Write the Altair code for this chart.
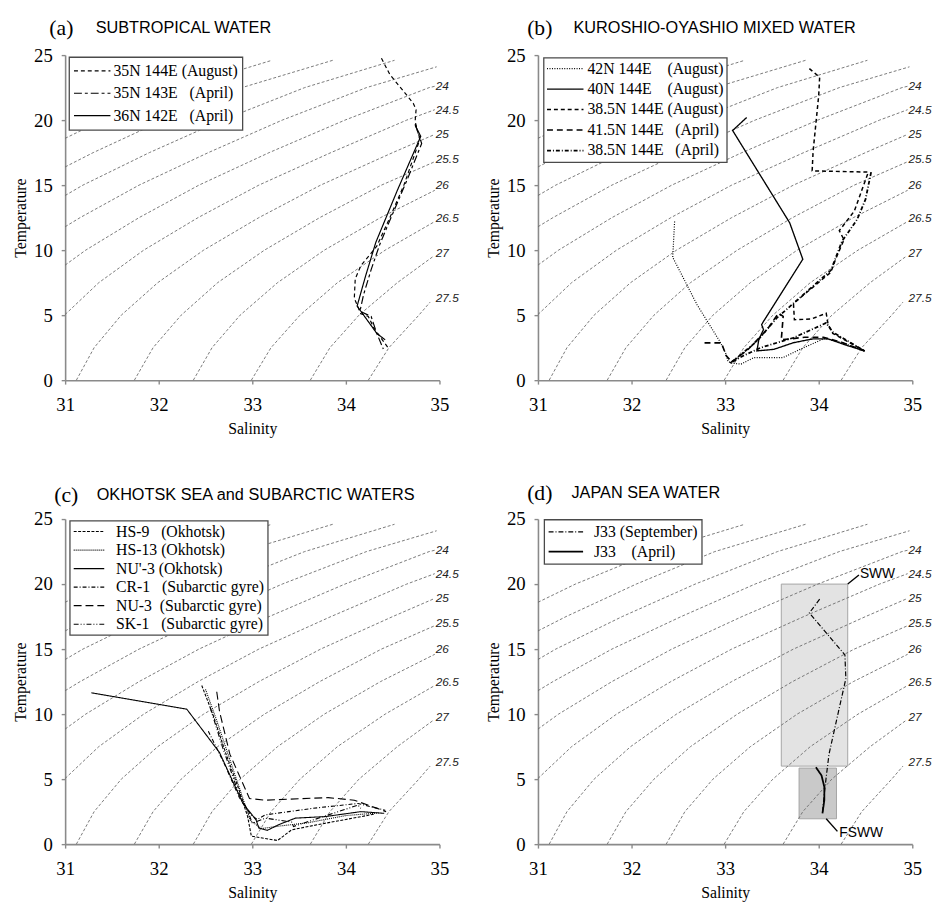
import altair as alt
import pandas as pd

NB = "\u00a0"
SERIF = "Liberation Serif"
SANS = "Liberation Sans"

# ---------------- isopycnal (sigma-t) curves ----------------
ISO_22_S = [31.00, 31.40, 32.25, 33.21]
ISO_22_T = [18.6, 20.0, 22.5, 24.6]
ISO_225_S = [31.00, 31.30, 32.05, 32.89, 33.86]
ISO_225_T = [16.4, 17.5, 20.0, 22.5, 24.6]
ISO_23_S = [31.00, 31.19, 31.90, 32.68, 33.56, 34.52]
ISO_23_T = [14.2, 15.0, 17.5, 20.0, 22.5, 24.6]
ISO_235_S = [31.00, 31.16, 31.79, 32.53, 33.32, 34.22, 34.97]
ISO_235_T = [11.8, 12.5, 15.0, 17.5, 20.0, 22.5, 24.1]
ISO_24_S = [31.00, 31.22, 31.79, 32.43, 33.18, 33.99, 34.89, 34.95]
ISO_24_T = [8.85, 10.0, 12.5, 15.0, 17.5, 20.0, 22.5, 22.6]
ISO_245_S = [31.00, 31.36, 31.84, 32.42, 33.07, 33.84, 34.65, 34.95]
ISO_245_T = [5.05, 7.5, 10.0, 12.5, 15.0, 17.5, 20.0, 20.8]
ISO_25_S = [31.12, 31.31, 31.60, 31.99, 32.48, 33.07, 33.73, 34.50, 34.95]
ISO_25_T = [0.0, 2.5, 5.0, 7.5, 10.0, 12.5, 15.0, 17.5, 18.9]
ISO_255_S = [31.74, 31.94, 32.24, 32.63, 33.13, 33.72, 34.38, 34.95]
ISO_255_T = [0.0, 2.5, 5.0, 7.5, 10.0, 12.5, 15.0, 16.8]
ISO_26_S = [32.37, 32.57, 32.87, 33.27, 33.77, 34.37, 34.95]
ISO_26_T = [0.0, 2.5, 5.0, 7.5, 10.0, 12.5, 14.6]
ISO_265_S = [32.99, 33.20, 33.51, 33.91, 34.42, 34.95]
ISO_265_T = [0.0, 2.5, 5.0, 7.5, 10.0, 12.2]
ISO_27_S = [33.62, 33.83, 34.14, 34.55, 34.93]
ISO_27_T = [0.0, 2.5, 5.0, 7.5, 9.5]
ISO_275_S = [34.24, 34.46, 34.78, 34.90]
ISO_275_T = [0.0, 2.5, 5.0, 6.0]

LABEL_TEXT = ["24", "24.5", "25", "25.5", "26", "26.5", "27", "27.5"]
LABEL_S = [34.96, 34.96, 34.96, 34.96, 34.96, 34.96, 34.96, 34.96]
LABEL_T = [22.6, 20.8, 18.9, 17.0, 15.0, 12.5, 9.8, 6.3]

# ---------------- (a) subtropical water ----------------
A_NAMES = ["35N 144E (August)" + NB * 2, "35N 143E" + NB * 3 + "(April)", "36N 142E" + NB * 3 + "(April)"]
A1_S = [34.38, 34.47, 34.63, 34.72, 34.75, 34.74, 34.79, 34.62, 34.47, 34.33, 34.16, 34.10, 34.09, 34.16, 34.24, 34.30, 34.45]
A1_T = [24.75, 23.5, 22.1, 21.3, 20.8, 19.9, 18.5, 15.0, 12.5, 10.3, 8.8, 7.8, 6.3, 5.1, 4.9, 4.0, 2.5]
A2_S = [34.74, 34.81, 34.66, 34.50, 34.36, 34.27, 34.19, 34.15, 34.27, 34.33, 34.40]
A2_T = [19.7, 18.2, 15.5, 12.8, 10.4, 8.5, 6.6, 5.3, 4.9, 3.6, 2.4]
A3_S = [34.74, 34.80, 34.55, 34.32, 34.21, 34.12, 34.22, 34.33, 34.42]
A3_T = [19.6, 18.75, 14.6, 10.6, 8.0, 5.7, 4.7, 3.6, 3.1]

# ---------------- (b) Kuroshio-Oyashio mixed water ----------------
B_NAMES = ["42N 144E" + NB * 4 + "(August)", "40N 144E" + NB * 4 + "(August)", "38.5N 144E (August)",
           "41.5N 144E" + NB * 3 + "(April)", "38.5N 144E" + NB * 3 + "(April)"]
B1_S = [32.46, 32.44, 32.70, 32.95, 33.01, 33.03, 33.07, 33.17, 33.31, 33.62, 33.80, 34.06, 34.25, 34.49]
B1_T = [12.2, 9.45, 5.8, 2.9, 2.0, 1.45, 1.3, 1.24, 1.74, 1.74, 2.37, 3.2, 2.9, 2.25]
B2_S = [33.23, 33.08, 33.69, 33.83, 33.41, 33.39, 33.41, 33.36, 33.34, 33.52, 33.73, 33.94, 34.10, 34.29, 34.49]
B2_T = [20.2, 19.2, 12.1, 9.3, 4.52, 4.27, 3.89, 3.13, 2.25, 2.37, 2.88, 3.18, 3.18, 2.7, 2.25]
B3_S = [33.90, 34.01, 34.00, 33.94, 33.93, 34.53, 34.46, 34.38, 34.22, 34.27, 34.18, 34.13, 33.73, 33.74, 33.92, 34.08, 34.10, 34.15, 34.49]
B3_T = [23.96, 23.3, 21.9, 17.6, 16.1, 16.0, 14.6, 13.0, 11.5, 10.8, 9.3, 8.3, 5.9, 4.65, 4.7, 5.15, 4.3, 3.6, 2.25]
B4_S = [32.78, 32.96, 33.01, 33.07, 33.25, 33.45, 33.57, 33.62, 33.60, 33.85, 34.05, 34.25, 34.49]
B4_T = [2.87, 2.87, 1.9, 1.4, 2.4, 3.9, 5.15, 4.9, 3.1, 3.3, 3.3, 2.9, 2.25]
B5_S = [34.56, 34.50, 34.41, 34.25, 34.13, 33.83, 33.55, 33.34, 33.13, 33.05, 33.20, 33.38, 33.73, 34.08, 34.15, 34.49]
B5_T = [16.0, 13.9, 12.35, 10.7, 8.45, 6.54, 4.77, 3.0, 1.74, 1.3, 1.9, 2.5, 3.26, 4.4, 3.7, 2.25]

# ---------------- (c) Okhotsk Sea and subarctic waters ----------------
C_NAMES = ["HS-9" + NB * 3 + "(Okhotsk)", "HS-13 (Okhotsk)", "NU'-3 (Okhotsk)",
           "CR-1" + NB * 3 + "(Subarctic gyre)", "NU-3" + NB * 2 + "(Subarctic gyre)", "SK-1" + NB * 3 + "(Subarctic gyre)"]
C1_S = [32.46, 32.58, 32.72, 32.86, 32.95, 32.99, 33.27, 33.42, 33.70, 34.00, 34.30]
C1_T = [12.2, 9.95, 6.92, 4.14, 2.12, 0.61, 0.28, 1.1, 1.5, 1.9, 2.3]
C2_S = [32.50, 32.62, 32.76, 32.90, 32.98, 33.10, 33.30, 33.60, 34.00, 34.35]
C2_T = [11.9, 9.5, 6.5, 3.5, 1.8, 1.2, 1.4, 1.65, 2.2, 2.4]
C3_S = [31.28, 32.30, 32.65, 32.90, 33.04, 33.07, 33.16, 33.28, 33.46, 33.78, 34.16, 34.41]
C3_T = [11.64, 10.38, 7.04, 3.13, 1.87, 1.24, 1.06, 1.49, 2.0, 2.12, 2.5, 2.37]
C4_S = [32.53, 32.70, 32.86, 32.98, 33.05, 33.14, 33.64, 34.13, 34.42]
C4_T = [8.69, 6.2, 3.6, 2.3, 1.9, 2.25, 2.75, 3.13, 2.6]
C5_S = [32.62, 32.65, 32.76, 32.97, 33.14, 33.81, 34.09, 34.43]
C5_T = [11.72, 10.2, 6.92, 3.51, 3.38, 3.58, 3.38, 2.5]
C6_S = [32.55, 32.68, 32.84, 32.95, 33.00, 33.14, 33.42, 33.44, 34.13, 34.16]
C6_T = [10.5, 7.5, 4.2, 2.6, 1.6, 2.0, 1.7, 1.36, 3.0, 2.75]

# ---------------- (d) Japan Sea water ----------------
D_NAMES = ["J33 (September)", "J33" + NB * 4 + "(April)"]
D1_S = [34.01, 33.90, 34.28, 34.29, 34.18, 34.11, 34.08, 34.06, 34.04]
D1_T = [18.84, 17.78, 14.55, 12.73, 9.19, 6.92, 5.15, 3.89, 2.37]
D2_S = [33.97, 34.03, 34.06, 34.06, 34.04]
D2_T = [5.91, 5.28, 4.4, 3.38, 2.37]

BOX_NAMES = ["SWW", "FSWW"]
BOX_S1 = [33.60, 33.79]
BOX_S2 = [34.31, 34.19]
BOX_T1 = [6.0, 1.95]
BOX_T2 = [20.0, 5.85]
LEAD_S1 = [34.31, 34.08]
LEAD_T1 = [20.0, 1.95]
LEAD_S2 = [34.43, 34.20]
LEAD_T2 = [20.7, 0.98]
ANNO_S = [34.44, 34.22]
ANNO_T = [20.75, 0.86]

# ---------------- tables ----------------
ISO_CURVES = [("22", ISO_22_S, ISO_22_T), ("22.5", ISO_225_S, ISO_225_T), ("23", ISO_23_S, ISO_23_T),
              ("23.5", ISO_235_S, ISO_235_T), ("24", ISO_24_S, ISO_24_T), ("24.5", ISO_245_S, ISO_245_T),
              ("25", ISO_25_S, ISO_25_T), ("25.5", ISO_255_S, ISO_255_T), ("26", ISO_26_S, ISO_26_T),
              ("26.5", ISO_265_S, ISO_265_T), ("27", ISO_27_S, ISO_27_T), ("27.5", ISO_275_S, ISO_275_T)]
iso_rows = []
for name, S, T in ISO_CURVES:
    for i, (s, t) in enumerate(zip(S, T)):
        iso_rows.append({"curve": name, "i": i, "S": s, "T": t})
ISO_DF = pd.DataFrame(iso_rows)
LAB_DF = pd.DataFrame({"label": LABEL_TEXT, "S": LABEL_S, "T": LABEL_T})


def line_df(names, S_lists, T_lists):
    rows = []
    for n, S, T in zip(names, S_lists, T_lists):
        for i, (s, t) in enumerate(zip(S, T)):
            rows.append({"series": n, "i": i, "S": s, "T": t})
    return pd.DataFrame(rows)


X = alt.X("S:Q", scale=alt.Scale(domain=[31, 35], nice=False, zero=False),
          axis=alt.Axis(title="Salinity", values=[31, 32, 33, 34, 35], format="d"))
Y = alt.Y("T:Q", scale=alt.Scale(domain=[0, 25], nice=False, zero=False),
          axis=alt.Axis(title="Temperature", values=[0, 5, 10, 15, 20, 25], format="d"))


def base_layers():
    iso = alt.Chart(ISO_DF).mark_line(color="#6a6a6a", strokeWidth=0.9, strokeDash=[3, 2]).encode(
        x=X, y=Y, detail="curve:N", order="i:Q")
    lab = alt.Chart(LAB_DF).mark_text(align="left", baseline="middle", font=SANS, fontStyle="italic",
                                      fontSize=12, color="#222222").encode(x=X, y=Y, text="label:N")
    return [iso, lab]


def make_legend(x, y, pad, clip, rowpad, size, sym, offset):
    return alt.Legend(title=None, orient="none", legendX=x, legendY=y, direction="vertical",
                      fillColor="white", strokeColor="#4a4a4a", padding=pad, clipHeight=clip,
                      rowPadding=rowpad, symbolType="stroke", symbolSize=sym * sym, symbolOffset=0,
                      symbolStrokeColor="black", labelFont=SERIF, labelFontSize=size,
                      labelColor="black", labelOffset=offset, labelLimit=0)


def data_layer(df, names, dashes, widths, leg):
    return alt.Chart(df).mark_line(color="black").encode(
        x=X, y=Y, order="i:Q",
        strokeDash=alt.StrokeDash("series:N", scale=alt.Scale(domain=names, range=dashes), legend=leg),
        strokeWidth=alt.StrokeWidth("series:N", scale=alt.Scale(domain=names, range=widths), legend=leg))


def title_layers(tag, text, xtag, xtext, y):
    d = pd.DataFrame({"tag": [tag], "name": [text]})
    t1 = alt.Chart(d).mark_text(font=SERIF, fontSize=22, align="left", baseline="middle", color="black").encode(
        x=alt.value(xtag), y=alt.value(y), text="tag:N")
    t2 = alt.Chart(d).mark_text(font=SANS, fontSize=16.5, align="left", baseline="middle", color="black").encode(
        x=alt.value(xtext), y=alt.value(y), text="name:N")
    return [t1, t2]


W, H = 380, 330

# panel a
dfa = line_df(A_NAMES, [A1_S, A2_S, A3_S], [A1_T, A2_T, A3_T])
leg_a = make_legend(4, 2, 4, 20, 2.7, 16, 37, 2)
pa = alt.layer(*base_layers(),
               data_layer(dfa, A_NAMES, [[4, 3], [8, 3, 3, 3], [1, 0]], [1.2, 1.2, 1.3], leg_a),
               *title_layers("(a)", "SUBTROPICAL WATER", -16, 31, -27.5)).properties(width=W, height=H)

# panel b
dfb = line_df(B_NAMES, [B1_S, B2_S, B3_S, B4_S, B5_S], [B1_T, B2_T, B3_T, B4_T, B5_T])
leg_b = make_legend(5.7, 2.7, 2.5, 17, 3.8, 16, 37, 3)
pb = alt.layer(*base_layers(),
               data_layer(dfb, B_NAMES, [[1, 1.5], [1, 0], [4, 3], [6, 4], [4, 2, 1, 2]],
                          [1.2, 1.8, 1.2, 1.2, 1.2], leg_b),
               *title_layers("(b)", "KUROSHIO-OYASHIO MIXED WATER", -11, 36, -27.5)).properties(width=W, height=H)

# panel c
dfc = line_df(C_NAMES, [C1_S, C2_S, C3_S, C4_S, C5_S, C6_S], [C1_T, C2_T, C3_T, C4_T, C5_T, C6_T])
leg_c = make_legend(4.7, 1.7, 3, 16, 2.8, 16, 31, 11)
pc = alt.layer(*base_layers(),
               data_layer(dfc, C_NAMES, [[3, 1.5], [1, 1], [1, 0], [4, 2, 1, 2], [8, 4], [5, 2, 1, 2, 1, 2]],
                          [1.1, 1.1, 1.4, 1.1, 1.2, 1.1], leg_c),
               *title_layers("(c)", "OKHOTSK SEA and SUBARCTIC WATERS", -11, 32, -24.5)).properties(width=W, height=H)

# panel d
box_df = pd.DataFrame({"box": BOX_NAMES, "S": BOX_S1, "S2": BOX_S2, "T": BOX_T1, "T2": BOX_T2})
lead_df = pd.DataFrame({"box": BOX_NAMES, "S": LEAD_S1, "S2": LEAD_S2, "T": LEAD_T1, "T2": LEAD_T2})
anno_df = pd.DataFrame({"box": BOX_NAMES, "S": ANNO_S, "T": ANNO_T})
rects = alt.Chart(box_df).mark_rect(stroke="#a5a5a5", strokeWidth=1).encode(
    x=X, x2="S2:Q", y=Y, y2="T2:Q",
    color=alt.Color("box:N", scale=alt.Scale(domain=BOX_NAMES, range=["#e3e3e3", "#c9c9c9"]), legend=None))
leads = alt.Chart(lead_df).mark_rule(color="black", strokeWidth=1.4).encode(x=X, x2="S2:Q", y=Y, y2="T2:Q")
annos = alt.Chart(anno_df).mark_text(align="left", baseline="middle", font=SANS, fontSize=14,
                                     color="black").encode(x=X, y=Y, text="box:N")
dfd = line_df(D_NAMES, [D1_S, D2_S], [D1_T, D2_T])
leg_d = make_legend(6.3, 0.5, 3.5, 18, 2, 16, 35, 10)
pd_ = alt.layer(rects, *base_layers(), leads, annos,
                data_layer(dfd, D_NAMES, [[5, 2, 1, 2], [1, 0]], [1.2, 1.8], leg_d),
                *title_layers("(d)", "JAPAN SEA WATER", -11, 34, -26)).properties(width=W, height=H)

RES = dict(strokeDash="independent", strokeWidth="independent")
top = alt.hconcat(pa, pb, spacing=27).resolve_scale(**RES).resolve_legend(**RES)
bottom = alt.hconcat(pc, pd_, spacing=27).resolve_scale(**RES).resolve_legend(**RES)
chart = alt.vconcat(top, bottom, spacing=47).resolve_scale(**RES).resolve_legend(**RES)

chart = chart.configure_view(stroke=None).configure_axis(
    grid=False, domainColor="#8a8a8a", domainWidth=1.6, tickColor="#8a8a8a", tickWidth=1.4, tickSize=4,
    labelFont=SERIF, labelFontSize=19, labelColor="black", labelFlush=False,
    titleFont=SERIF, titleFontSize=16, titleFontWeight="normal", titleColor="black"
).configure_axisX(labelPadding=12, titlePadding=6).configure_axisY(labelPadding=9, titlePadding=5
).configure_legend(strokeWidth=1.3).properties(padding={"left": 5, "top": 2, "right": 0, "bottom": 0})

chart.save("out.html", embed_options={"renderer": "svg", "actions": False})
